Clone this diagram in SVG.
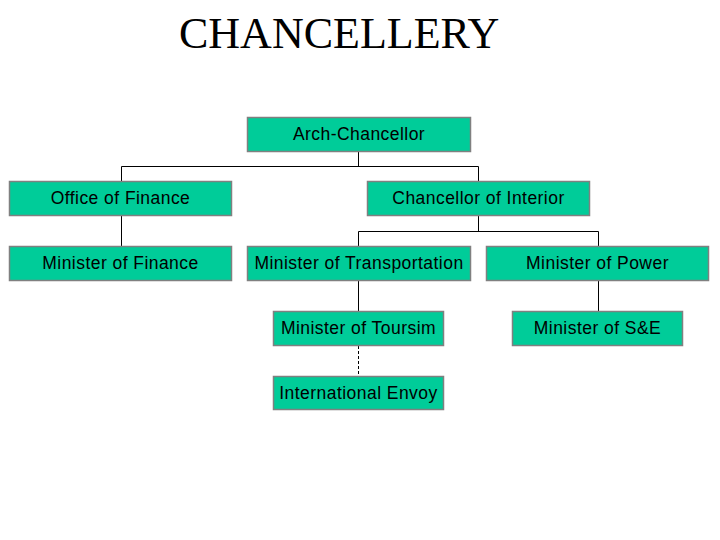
<svg xmlns="http://www.w3.org/2000/svg" width="720" height="540" viewBox="0 0 720 540">
<style>
.box{fill:#00CC99;stroke:#808080;stroke-width:1.5}
.lbl{font-family:"Liberation Sans",Arial,sans-serif;font-size:17.5px;letter-spacing:0.45px;fill:#000;text-anchor:middle}
.ln{stroke:#000;stroke-width:1;fill:none}
.dash{stroke-dasharray:3,2}
</style>
<rect width="720" height="540" fill="#fff"/>
<text x="179" y="48" font-family="'Liberation Serif','Times New Roman',serif" font-size="44" fill="#000">CHANCELLERY</text>
<g id="connectors">
<path class="ln" d="M358.5 151V166.5M121.5 181V166.5H478.5V181"/>
<path class="ln" d="M121.5 216V246"/>
<path class="ln" d="M478.5 216V231.5M358.5 246V231.5H598.5V246"/>
<path class="ln" d="M358.5 281V311"/>
<path class="ln" d="M598.5 281V311"/>
<path class="ln dash" d="M358.5 346V376"/>
</g>
<g id="arch"><rect class="box" x="247.5" y="117.5" width="223" height="34"/><text class="lbl" x="359" y="140">Arch-Chancellor</text></g>
<g id="office-finance"><rect class="box" x="9.5" y="181.5" width="222" height="34"/><text class="lbl" x="120.5" y="204">Office of Finance</text></g>
<g id="chancellor-interior"><rect class="box" x="367.5" y="181.5" width="222" height="34"/><text class="lbl" x="478.5" y="204">Chancellor of Interior</text></g>
<g id="minister-finance"><rect class="box" x="9.5" y="246.5" width="222" height="34"/><text class="lbl" x="120.5" y="269">Minister of Finance</text></g>
<g id="minister-transportation"><rect class="box" x="247.5" y="246.5" width="223" height="34"/><text class="lbl" x="359" y="269">Minister of Transportation</text></g>
<g id="minister-power"><rect class="box" x="486.5" y="246.5" width="222" height="34"/><text class="lbl" x="597.5" y="269">Minister of Power</text></g>
<g id="minister-tourism"><rect class="box" x="273.5" y="311.5" width="170" height="34"/><text class="lbl" x="358.5" y="334">Minister of Toursim</text></g>
<g id="minister-se"><rect class="box" x="512.5" y="311.5" width="170" height="34"/><text class="lbl" x="597.5" y="334">Minister of S&amp;E</text></g>
<g id="international-envoy"><rect class="box" x="273.5" y="376.5" width="170" height="33"/><text class="lbl" x="358.5" y="399">International Envoy</text></g>
</svg>
